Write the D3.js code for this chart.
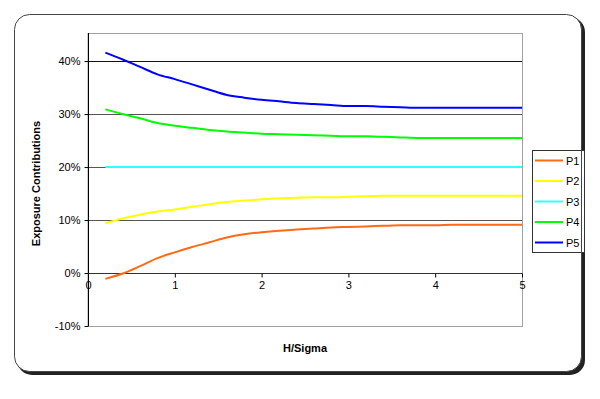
<!DOCTYPE html>
<html>
<head>
<meta charset="utf-8">
<script src="https://cdn.jsdelivr.net/npm/d3@7"></script>
<style>
	body { margin: 0; background: #fff; }
	text { font-family: "Liberation Sans", Arial, sans-serif; fill: #000; }
</style>
</head>
<body>
<script>
// data (values in %)
var hSigma = [0.2, 0.4, 0.6, 0.8, 1.0, 1.2, 1.4, 1.6, 1.8, 2.0, 2.2, 2.4, 2.6, 2.8, 3.0,
	3.2, 3.4, 3.6, 3.8, 4.0, 4.2, 4.4, 4.6, 4.8, 5.0];
var p1 = [-1.1, -0.1, 1.3, 2.8, 3.9, 4.9, 5.8, 6.7, 7.3, 7.7, 8.0, 8.2, 8.4, 8.6, 8.7,
	8.8, 8.9, 9.0, 9.0, 9.0, 9.1, 9.1, 9.1, 9.1, 9.1];
var p2 = [9.4, 10.3, 11.0, 11.6, 12.0, 12.5, 13.0, 13.4, 13.7, 13.9, 14.1, 14.2, 14.3, 14.3, 14.4,
	14.5, 14.6, 14.6, 14.6, 14.6, 14.6, 14.6, 14.6, 14.6, 14.6];
var p3 = [20, 20, 20, 20, 20, 20, 20, 20, 20, 20, 20, 20, 20, 20, 20,
	20, 20, 20, 20, 20, 20, 20, 20, 20, 20];
var p4 = [30.9, 30.0, 29.2, 28.3, 27.8, 27.4, 27.0, 26.7, 26.5, 26.3, 26.2, 26.1, 26.0, 25.9, 25.8,
	25.8, 25.7, 25.6, 25.5, 25.5, 25.5, 25.5, 25.5, 25.5, 25.5];
var p5 = [41.6, 40.3, 38.9, 37.5, 36.6, 35.6, 34.6, 33.6, 33.1, 32.7, 32.4, 32.1, 31.9, 31.7, 31.5,
	31.5, 31.4, 31.3, 31.2, 31.2, 31.2, 31.2, 31.2, 31.2, 31.2];
var seriesNames = ["P1", "P2", "P3", "P4", "P5"];
var seriesColors = ["#ff6a14", "#ffff00", "#33ffff", "#00ff00", "#0000ff"];
var xTicks = [0, 1, 2, 3, 4, 5];
var yTicks = [-10, 0, 10, 20, 30, 40];

var series = [p1, p2, p3, p4, p5].map((vals, i) => ({
	name: seriesNames[i],
	color: seriesColors[i],
	points: vals.map((v, j) => [hSigma[j], v])
}));

var W = 600, H = 399;
var plot = {left: 88, right: 522, top: 33, bottom: 326};

var svg = d3.select("body").append("svg")
		.attr("width", W)
		.attr("height", H);

var x = d3.scaleLinear().domain([0, 5]).range([plot.left, plot.right]);
var y = d3.scaleLinear().domain([-10, 45.3]).range([plot.bottom, plot.top]);

// outer frame shadow
svg.append("rect")
		.attr("x", 17).attr("y", 17)
		.attr("width", 568).attr("height", 358)
		.attr("rx", 15)
		.attr("fill", "#222");
svg.append("rect")
		.attr("x", 14.5).attr("y", 14.5)
		.attr("width", 567).attr("height", 357)
		.attr("rx", 15)
		.attr("fill", "#fff")
		.attr("stroke", "#444");

// plot area border
svg.append("rect")
		.attr("x", plot.left).attr("y", plot.top + 0.5)
		.attr("width", plot.right - plot.left + 0.5)
		.attr("height", plot.bottom - plot.top)
		.attr("fill", "none")
		.attr("stroke", "#a0a0a0");

// gridlines
svg.append("g").selectAll("line")
		.data(yTicks.filter(d => d > -10))
		.join("line")
		.attr("x1", plot.left).attr("x2", plot.right)
		.attr("y1", d => Math.round(y(d)) + 0.5)
		.attr("y2", d => Math.round(y(d)) + 0.5)
		.attr("stroke", d => d == 40 ? "#111" : "#555");

// y axis
var yaxis = d3.axisLeft(y)
		.tickValues(yTicks)
		.tickSize(4)
		.tickFormat(d => d + "%");
var gy = svg.append("g")
		.attr("transform", `translate(${plot.left + 0.5},0)`)
		.call(yaxis);
gy.select(".domain").attr("stroke", "#000").attr("d", `M0,${plot.top}V${plot.bottom}`);
gy.selectAll(".tick line").attr("stroke", "#000")
		.attr("transform", function () { return ""; });
gy.selectAll(".tick text")
		.attr("x", -8)
		.attr("font-size", 11)
		.attr("font-family", "Liberation Sans, Arial, sans-serif");

// x axis on the 0% line
var xaxis = d3.axisBottom(x)
		.tickValues(xTicks)
		.tickSize(4)
		.tickFormat(d3.format("d"));
var gx = svg.append("g")
		.attr("transform", `translate(0,${Math.round(y(0)) + 0.5})`)
		.call(xaxis);
gx.select(".domain").attr("stroke", "#333").attr("d", `M${plot.left},0H${plot.right}`);
gx.selectAll(".tick line").attr("stroke", "#000");
gx.selectAll(".tick text")
		.attr("y", 8)
		.attr("font-size", 11)
		.attr("font-family", "Liberation Sans, Arial, sans-serif");

// series lines
var line = d3.line()
		.x(d => x(d[0]))
		.y(d => y(d[1]))
		.curve(d3.curveMonotoneX);

svg.append("g").selectAll("path")
		.data(series)
		.join("path")
		.attr("d", d => line(d.points))
		.attr("fill", "none")
		.attr("stroke", d => d.color)
		.attr("stroke-width", 2);

// axis titles
svg.append("text")
		.attr("transform", `translate(40,${(plot.top + plot.bottom) / 2 + 4}) rotate(-90)`)
		.attr("text-anchor", "middle")
		.attr("font-size", 11)
		.attr("font-weight", "bold")
		.text("Exposure Contributions");

svg.append("text")
		.attr("x", 305).attr("y", 352)
		.attr("text-anchor", "middle")
		.attr("font-size", 11)
		.attr("font-weight", "bold")
		.text("H/Sigma");

// legend
var legend = svg.append("g");
legend.append("rect")
		.attr("x", 532.5).attr("y", 150.5)
		.attr("width", 52).attr("height", 102)
		.attr("fill", "#fff")
		.attr("stroke", "#333");

var item = legend.selectAll("g.item")
		.data(series)
		.join("g")
		.attr("class", "item")
		.attr("transform", (d, i) => `translate(0,${160.5 + i * 20.5})`);
item.append("line")
		.attr("x1", 535).attr("x2", 563)
		.attr("stroke", d => d.color)
		.attr("stroke-width", 2);
item.append("text")
		.attr("x", 566).attr("y", 4)
		.attr("font-size", 11)
		.text(d => d.name);

// redraw frame edge over the legend
svg.append("path")
		.attr("d", "M581.5,30V356")
		.attr("stroke", "#444");
</script>
</body>
</html>
